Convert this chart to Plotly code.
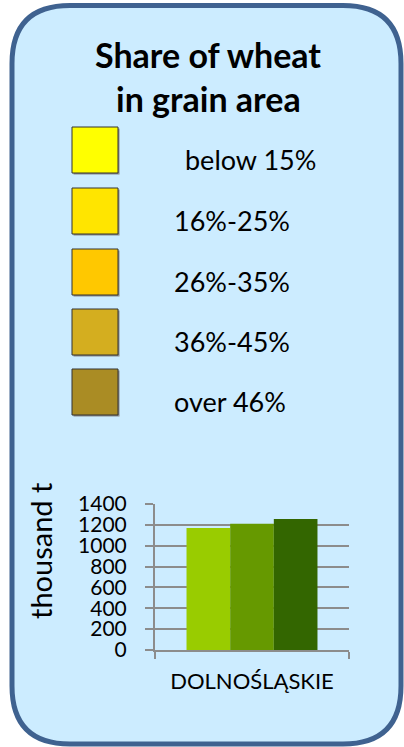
import plotly.graph_objects as go

# ---- data ----
region = ["DOLNOŚLĄSKIE"]
series_names = ["period 1", "period 2", "period 3"]
series_values = [1170, 1211, 1256]
series_colors = ["#99CC00", "#669900", "#336600"]

legend_labels = ["below 15%", "16%-25%", "26%-35%", "36%-45%", "over 46%"]
legend_colors = ["#FFFF00", "#FFE500", "#FFC800", "#D4AE1F", "#AA8C24"]

y_ticks = [0, 200, 400, 600, 800, 1000, 1200, 1400]

W, H = 404, 747
FONT = "Lato"


def px(x):
    return x / W


def py(y):
    return 1 - y / H


fig = go.Figure()
for name, val, col in zip(series_names, series_values, series_colors):
    fig.add_trace(go.Bar(x=region, y=[val], name=name, marker_color=col,
                         marker_line_width=0, showlegend=False))

shapes = []

# rounded panel
x0, x1, y0, y1, r = 12, 401, 5.5, 744, 58
path = (
    f"M {px(x0 + r)},{py(y0)} L {px(x1 - r)},{py(y0)} "
    f"Q {px(x1)},{py(y0)} {px(x1)},{py(y0 + r)} "
    f"L {px(x1)},{py(y1 - r)} "
    f"Q {px(x1)},{py(y1)} {px(x1 - r)},{py(y1)} "
    f"L {px(x0 + r)},{py(y1)} "
    f"Q {px(x0)},{py(y1)} {px(x0)},{py(y1 - r)} "
    f"L {px(x0)},{py(y0 + r)} "
    f"Q {px(x0)},{py(y0)} {px(x0 + r)},{py(y0)} Z"
)
shapes.append(dict(type="path", path=path, xref="paper", yref="paper",
                   fillcolor="#CCECFF", line=dict(color="#3F6290", width=5),
                   layer="below"))


def note(text, x, y, size, xanchor="center", angle=0):
    return dict(text=text, x=px(x), y=py(y), xanchor=xanchor, yanchor="middle",
                showarrow=False, xref="paper", yref="paper", textangle=angle,
                font=dict(family=FONT, size=size, color="#000000"))


annotations = [
    note("<b>Share of wheat</b>", 208, 54, 34),
    note("<b>in grain area</b>", 208, 99, 34),
    note("thousand t", 40, 551, 29, angle=-90),
]

# legend swatches with labels
sq_top = [127, 188, 249, 309, 369]
label_x = [183, 172, 172, 172, 172]
for i, (lab, col) in enumerate(zip(legend_labels, legend_colors)):
    t = sq_top[i]
    shapes.append(dict(type="rect", xref="paper", yref="paper",
                       x0=px(73.5), x1=px(119.5), y0=py(t + 47.5), y1=py(t + 1.5),
                       fillcolor="#8A8A8A", line=dict(width=0)))
    shapes.append(dict(type="rect", xref="paper", yref="paper",
                       x0=px(72), x1=px(118), y0=py(t + 46), y1=py(t),
                       fillcolor=col, line=dict(color="#333333", width=1)))
    annotations.append(note(lab, label_x[i], t + 32, 27, xanchor="left"))

fig.update_layout(
    width=W, height=H,
    margin=dict(l=0, r=0, t=0, b=0, autoexpand=False),
    paper_bgcolor="#FFFFFF",
    plot_bgcolor="rgba(0,0,0,0)",
    barmode="group", bargap=0.325, bargroupgap=0,
    shapes=shapes, annotations=annotations,
    xaxis=dict(domain=[px(155), px(349)], showgrid=False, showline=True, automargin=False,
               linecolor="#8C8C8C", linewidth=2, ticks="outside", tickson="boundaries",
               ticklen=7, tickwidth=2, tickcolor="#8C8C8C", ticklabelstandoff=11,
               tickfont=dict(family=FONT, size=22, color="#000000"), fixedrange=True),
    yaxis=dict(domain=[py(650), py(504)], range=[0, 1400], tickvals=y_ticks,
               showgrid=True, gridcolor="#8C8C8C", gridwidth=2, showline=True,
               automargin=False,
               linecolor="#8C8C8C", linewidth=2, ticks="outside", ticklen=8,
               tickwidth=2, tickcolor="#8C8C8C", ticklabelstandoff=14, zeroline=False,
               tickfont=dict(family=FONT, size=21, color="#000000"), fixedrange=True),
)

fig.write_html("out.html")
